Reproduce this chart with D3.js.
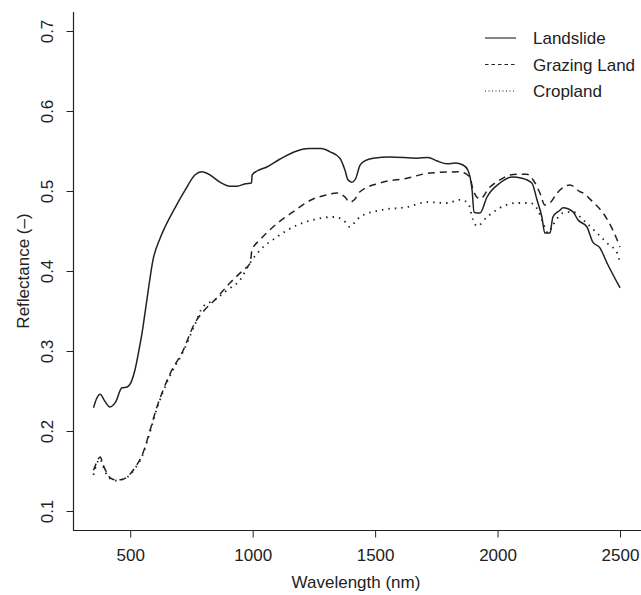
<!DOCTYPE html>
<html>
<head>
<meta charset="utf-8">
<script src="https://cdn.jsdelivr.net/npm/d3@7"></script>
<style>
  body { margin: 0; background: #fff; }
  text { font-family: "Liberation Sans", Arial, sans-serif; fill: #222; }
</style>
</head>
<body>
<div id="chart"></div>
<script>
// Spectral reflectance (wavelength nm, reflectance)
const landslideWl = [350, 362, 377, 395, 417, 440, 466, 487, 505, 519, 535, 548, 568, 593, 622, 642, 683, 724, 764, 793,
  826, 866, 907, 936, 970, 995, 998, 1018, 1058, 1112, 1181, 1230, 1280, 1316, 1356, 1377, 1389, 1405, 1420, 1438,
  1460, 1492, 1561, 1671, 1716, 1753, 1794, 1827, 1859, 1879, 1896, 1904, 1916, 1928, 1957, 2010, 2059, 2100, 2140,
  2161, 2181, 2193, 2214, 2226, 2255, 2267, 2308, 2328, 2365, 2389, 2418, 2447, 2500];
const landslideR = [.229, .240, .246, .238, .230, .236, .254, .255, .262, .276, .300, .322, .364, .414, .441, .455, .479, .501, .520, .524,
  .520, .511, .506, .506, .509, .510, .520, .525, .530, .540, .550, .553, .553, .549, .541, .526, .514, .511, .515, .532,
  .538, .541, .5425, .541, .542, .5375, .534, .535, .5325, .526, .501, .4735, .4725, .4725, .4925, .510, .5175, .516, .510,
  .489, .4675, .4475, .4475, .4675, .476, .479, .474, .464, .455, .436, .429, .410, .379];

const grazingWl = [350, 362, 377, 390, 405, 420, 438, 460, 487, 519, 552, 581, 609, 634, 670, 711, 764, 800, 846, 907,
  961, 990, 997, 1030, 1083, 1165, 1247, 1300, 1344, 1375, 1397, 1415, 1438, 1520, 1630, 1724, 1846, 1887, 1900, 1928,
  1969, 2010, 2051, 2090, 2120, 2145, 2173, 2193, 2214, 2243, 2296, 2337, 2349, 2390, 2431, 2471, 2500];
const grazingR = [.151, .160, .1675, .157, .1475, .141, .139, .139, .1425, .154, .1725, .201, .230, .251, .276, .2975, .335, .350, .364, .385,
  .401, .410, .426, .439, .455, .474, .490, .495, .4975, .493, .486, .489, .499, .510, .516, .5225, .524, .5175, .501, .490,
  .505, .514, .520, .521, .521, .514, .4975, .4825, .485, .4975, .5075, .499, .4975, .486, .4725, .451, .430];

const croplandWl = [350, 362, 377, 390, 405, 420, 438, 460, 487, 519, 552, 581, 609, 634, 670, 711, 764, 796, 846, 895,
  949, 989, 1030, 1099, 1165, 1247, 1329, 1369, 1397, 1415, 1438, 1520, 1630, 1712, 1794, 1846, 1879, 1900, 1916, 1957,
  2010, 2079, 2133, 2165, 2185, 2206, 2226, 2267, 2308, 2349, 2406, 2447, 2488, 2500];
const croplandR = [.145, .158, .165, .155, .145, .140, .138, .139, .142, .153, .171, .199, .228, .249, .274, .296, .333, .355, .364, .376,
  .389, .410, .426, .4425, .455, .464, .4675, .464, .455, .460, .4675, .476, .480, .486, .485, .489, .485, .464, .456, .4675,
  .479, .485, .485, .476, .461, .4475, .4575, .4725, .474, .464, .4475, .435, .4225, .410];

const xTicks = [500, 1000, 1500, 2000, 2500];
const yTicks = [0.1, 0.2, 0.3, 0.4, 0.5, 0.6, 0.7];
const seriesNames = ["Landslide", "Grazing Land", "Cropland"];

const width = 641, height = 595;
const ink = "#222";

// plot line dash patterns, and shorter ones used in the legend
const plotDash = [null, "7,5", "1.5,5"];
const legDash = [null, "3.5,3", "1,2.5"];

const svg = d3.select("#chart").append("svg")
    .attr("width", width)
    .attr("height", height);

const x = d3.scaleLinear().domain([350, 2500]).range([93.5, 620]);
const y = d3.scaleLinear().domain([0.1, 0.7]).range([511, 31]);

// axis lines (left and bottom only, like R bty="l")
svg.append("line")
    .attr("x1", 73.5).attr("x2", 73.5).attr("y1", 12).attr("y2", 530.5)
    .attr("stroke", ink).attr("stroke-width", 1.2);
svg.append("line")
    .attr("x1", 73).attr("x2", 641).attr("y1", 530.5).attr("y2", 530.5)
    .attr("stroke", ink).attr("stroke-width", 1.2);

const xAxis = svg.append("g")
    .attr("transform", "translate(0,530.5)")
    .call(d3.axisBottom(x).tickValues(xTicks).tickSize(7).tickPadding(11).tickFormat(d3.format("d")));
xAxis.select(".domain").remove();
xAxis.selectAll("line").attr("stroke", ink);
xAxis.selectAll("text").style("font-size", "17px").attr("fill", ink);

const yAxis = svg.append("g")
    .attr("transform", "translate(73.5,0)")
    .call(d3.axisLeft(y).tickValues(yTicks).tickSize(7).tickFormat(d3.format(".1f")));
yAxis.select(".domain").remove();
yAxis.selectAll("line").attr("stroke", ink);
// R draws y labels parallel to the axis (each tick group is already translated to y(d))
yAxis.selectAll("text")
    .attr("x", 0).attr("y", 0).attr("dy", null)
    .attr("text-anchor", "middle")
    .attr("transform", "translate(-20.5,0) rotate(-90)")
    .style("font-size", "17px")
    .attr("fill", ink);

// axis titles
svg.append("text")
    .attr("x", 356).attr("y", 588)
    .attr("text-anchor", "middle")
    .style("font-size", "17px")
    .text("Wavelength (nm)");

svg.append("text")
    .attr("transform", "translate(29,271) rotate(-90)")
    .attr("text-anchor", "middle")
    .style("font-size", "17px")
    .text("Reflectance (\u2013)");

// curves
const line = d3.line()
    .x(d => x(d[0]))
    .y(d => y(d[1]))
    .curve(d3.curveMonotoneX);

const series = [
  d3.zip(landslideWl, landslideR),
  d3.zip(grazingWl, grazingR),
  d3.zip(croplandWl, croplandR)
];

svg.append("g")
  .selectAll("path")
  .data(series)
  .join("path")
    .attr("d", line)
    .attr("fill", "none")
    .attr("stroke", ink)
    .attr("stroke-width", (_, i) => i == 2 ? 1.8 : 1.5)
    .attr("stroke-dasharray", (_, i) => plotDash[i]);

// legend
const legY = [38, 64.5, 91];
const leg = svg.append("g")
  .selectAll("g")
  .data(seriesNames)
  .join("g");

leg.append("line")
    .attr("x1", 485).attr("x2", 516)
    .attr("y1", (_, i) => legY[i]).attr("y2", (_, i) => legY[i])
    .attr("stroke", ink)
    .attr("stroke-width", 1.1)
    .attr("stroke-dasharray", (_, i) => legDash[i]);

leg.append("text")
    .attr("x", 533)
    .attr("y", (_, i) => legY[i] + 6)
    .style("font-size", "17px")
    .text(d => d);
</script>
</body>
</html>
